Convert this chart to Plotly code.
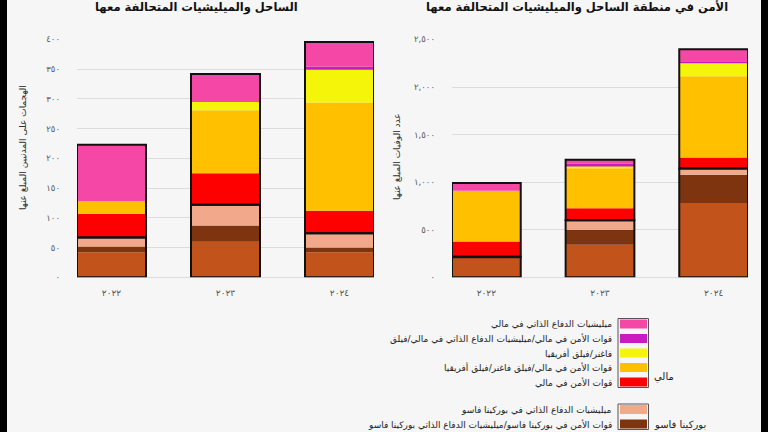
import plotly.graph_objects as go

# ---------------- data ----------------
years = ["٢٠٢٢", "٢٠٢٣", "٢٠٢٤"]

# series labels (stack order bottom -> top)
series_names = [
    "قوات الأمن في بوركينا فاسو",
    "قوات الأمن في بوركينا فاسو/ميليشيات الدفاع الذاتي بوركينا فاسو",
    "ميليشيات الدفاع الذاتي في بوركينا فاسو",
    "قوات الأمن في مالي",
    "قوات الأمن في مالي/فيلق فاغنر/فيلق أفريقيا",
    "فاغنر/فيلق أفريقيا",
    "قوات الأمن في مالي/ميليشيات الدفاع الذاتي في مالي/فيلق",
    "ميليشيات الدفاع الذاتي في مالي",
]
series_colors = ["#C1531B", "#7E340F", "#F2A88A", "#FF0000",
                 "#FFC000", "#F5F50A", "#C81BC3", "#F548A6"]
series_group = ["bf", "bf", "bf", "mali", "mali", "mali", "mali", "mali"]

# reported attacks on civilians (left panel)
bf_forces_att = [42, 60, 42]
bf_forces_vdp_att = [10, 27, 8]
bf_vdp_att = [15, 35, 24]
mali_forces_att = [40, 53, 38]
mali_forces_wagner_att = [21, 106, 182]
wagner_att = [0, 14, 55]
mali_forces_dozo_att = [0, 0, 5]
mali_dozo_att = [95, 47, 42]

# reported fatalities (right panel)
bf_forces_fat = [205, 342, 781]
bf_forces_vdp_fat = [11, 158, 298]
bf_vdp_fat = [0, 100, 66]
mali_forces_fat = [161, 126, 115]
mali_forces_wagner_fat = [533, 421, 853]
wagner_fat = [0, 28, 137]
mali_forces_dozo_fat = [0, 18, 21]
mali_dozo_fat = [81, 42, 126]

left_ticks = [0, 50, 100, 150, 200, 250, 300, 350, 400]
left_ticktext = ["٠", "٥٠", "١٠٠", "١٥٠", "٢٠٠", "٢٥٠", "٣٠٠", "٣٥٠", "٤٠٠"]
right_ticks = [0, 500, 1000, 1500, 2000, 2500]
right_ticktext = ["٠", "٥٠٠", "١,٠٠٠", "١,٥٠٠", "٢,٠٠٠", "٢,٥٠٠"]

left_title = "الساحل والميليشيات المتحالفة معها"
right_title = "الأمن في منطقة الساحل والميليشيات المتحالفة معها"
left_ytitle = "الهجمات على المدنيين المبلغ عنها"
right_ytitle = "عدد الوفيات المبلغ عنها"
group_mali = "مالي"
group_bf = "بوركينا فاسو"

# ---------------- figure ----------------
W, H = 768, 432
FONT = "DejaVu Sans"
BG = "#F6F6F6"
BAR_W = 0.605


def px(p):
    return p / W


def py(p):
    return 1 - p / H


fig = go.Figure()

panels = [
    ("x", "y", [bf_forces_att, bf_forces_vdp_att, bf_vdp_att, mali_forces_att,
                mali_forces_wagner_att, wagner_att, mali_forces_dozo_att, mali_dozo_att]),
    ("x2", "y2", [bf_forces_fat, bf_forces_vdp_fat, bf_vdp_fat, mali_forces_fat,
                  mali_forces_wagner_fat, wagner_fat, mali_forces_dozo_fat, mali_dozo_fat]),
]

for xa, ya, vals in panels:
    base = [0] * len(years)
    for name, color, v in zip(series_names, series_colors, vals):
        fig.add_trace(go.Bar(
            x=years, y=v, base=list(base), name=name, width=BAR_W,
            marker=dict(color=color, line=dict(width=0)),
            xaxis=xa, yaxis=ya, showlegend=False, hoverinfo="skip"))
        base = [b + val for b, val in zip(base, v)]
    bf_tot = [sum(vals[k][i] for k in range(8) if series_group[k] == "bf") for i in range(3)]
    mali_tot = [sum(vals[k][i] for k in range(8) if series_group[k] == "mali") for i in range(3)]
    for b, h in (([0, 0, 0], bf_tot), (bf_tot, mali_tot)):
        fig.add_trace(go.Bar(
            x=years, y=h, base=b, width=BAR_W,
            marker=dict(color="rgba(0,0,0,0)", line=dict(color="#111111", width=2)),
            xaxis=xa, yaxis=ya, showlegend=False, hoverinfo="skip"))

ydom = [py(277.3), py(39.5)]
common_x = dict(type="category", range=[-BAR_W / 2, 2 + BAR_W / 2], showgrid=False,
                showline=False, zeroline=False, ticks="", ticklabelstandoff=9,
                tickfont=dict(family=FONT, size=9, color="#555555"), automargin=False)
common_y = dict(domain=ydom, showgrid=True, gridcolor="#DCDCDC", gridwidth=1,
                zeroline=True, zerolinecolor="#DCDCDC", zerolinewidth=1,
                showline=False, ticks="", ticklabelstandoff=16,
                tickfont=dict(family=FONT, size=8.5, color="#555555"), automargin=False)

fig.update_layout(
    width=W, height=H, margin=dict(l=0, r=0, t=0, b=0),
    paper_bgcolor=BG, plot_bgcolor=BG, barmode="overlay",
    font=dict(family=FONT, size=10, color="#222222"),
    xaxis=dict(domain=[px(77), px(374)], anchor="y", **common_x),
    xaxis2=dict(domain=[px(452), px(748)], anchor="y2", **common_x),
    yaxis=dict(anchor="x", range=[0, 400], tickvals=left_ticks, ticktext=left_ticktext, **common_y),
    yaxis2=dict(anchor="x2", range=[0, 2500], tickvals=right_ticks, ticktext=right_ticktext, **common_y),
)

ann = []
shapes = []
# titles
ann.append(dict(text="<b>" + left_title + "</b>", x=px(196), y=py(7.5), xref="paper", yref="paper",
                showarrow=False, font=dict(family=FONT, size=11.5, color="#111111"),
                xanchor="center", yanchor="middle"))
ann.append(dict(text="<b>" + right_title + "</b>", x=px(577), y=py(7.5), xref="paper", yref="paper",
                showarrow=False, font=dict(family=FONT, size=11.5, color="#111111"),
                xanchor="center", yanchor="middle"))
# axis titles
ann.append(dict(text=left_ytitle, x=px(23), y=py(148), xref="paper", yref="paper", textangle=-90,
                showarrow=False, font=dict(family=FONT, size=9, color="#333333"),
                xanchor="center", yanchor="middle"))
ann.append(dict(text=right_ytitle, x=px(397), y=py(157), xref="paper", yref="paper", textangle=-90,
                showarrow=False, font=dict(family=FONT, size=9, color="#333333"),
                xanchor="center", yanchor="middle"))

# manual legend (swatches right of labels, as in the reference)
sw_x0, sw_x1 = 620, 647
text_right = 613.5
mali_rows = [7, 6, 5, 4, 3]   # indices into series lists, top -> bottom
bf_rows = [2, 1]
row_h = 14.5


def legend_group(rows, top, title, title_y):
    n = len(rows)
    shapes.append(dict(type="rect", xref="paper", yref="paper",
                       x0=px(sw_x0 - 2), x1=px(sw_x1 + 1.5),
                       y0=py(top - 1), y1=py(top + row_h * n - 4.5),
                       line=dict(color="#555555", width=1), fillcolor="rgba(0,0,0,0)"))
    for j, k in enumerate(rows):
        cy = top + 4.5 + row_h * j
        shapes.append(dict(type="rect", xref="paper", yref="paper",
                           x0=px(sw_x0), x1=px(sw_x1), y0=py(cy - 4.5), y1=py(cy + 4.5),
                           line=dict(width=0), fillcolor=series_colors[k]))
        ann.append(dict(text=series_names[k], x=px(text_right), y=py(cy), xref="paper", yref="paper",
                        showarrow=False, xanchor="right", yanchor="middle",
                        font=dict(family=FONT, size=9, color="#222222")))
    ann.append(dict(text=title, x=px(652), y=py(title_y), xref="paper", yref="paper",
                    showarrow=False, xanchor="left", yanchor="middle",
                    font=dict(family=FONT, size=10, color="#222222")))


legend_group(mali_rows, 319.5, group_mali, 377)
legend_group(bf_rows, 405, group_bf, 424)

# dark edge strips of the reference picture
shapes.append(dict(type="rect", xref="paper", yref="paper", x0=0, x1=px(7), y0=0, y1=1,
                   line=dict(width=0), fillcolor="#000000", layer="above"))
shapes.append(dict(type="rect", xref="paper", yref="paper", x0=px(761), x1=1, y0=0, y1=1,
                   line=dict(width=0), fillcolor="#000000", layer="above"))

fig.update_layout(annotations=ann, shapes=shapes)
fig.write_html("out.html")
